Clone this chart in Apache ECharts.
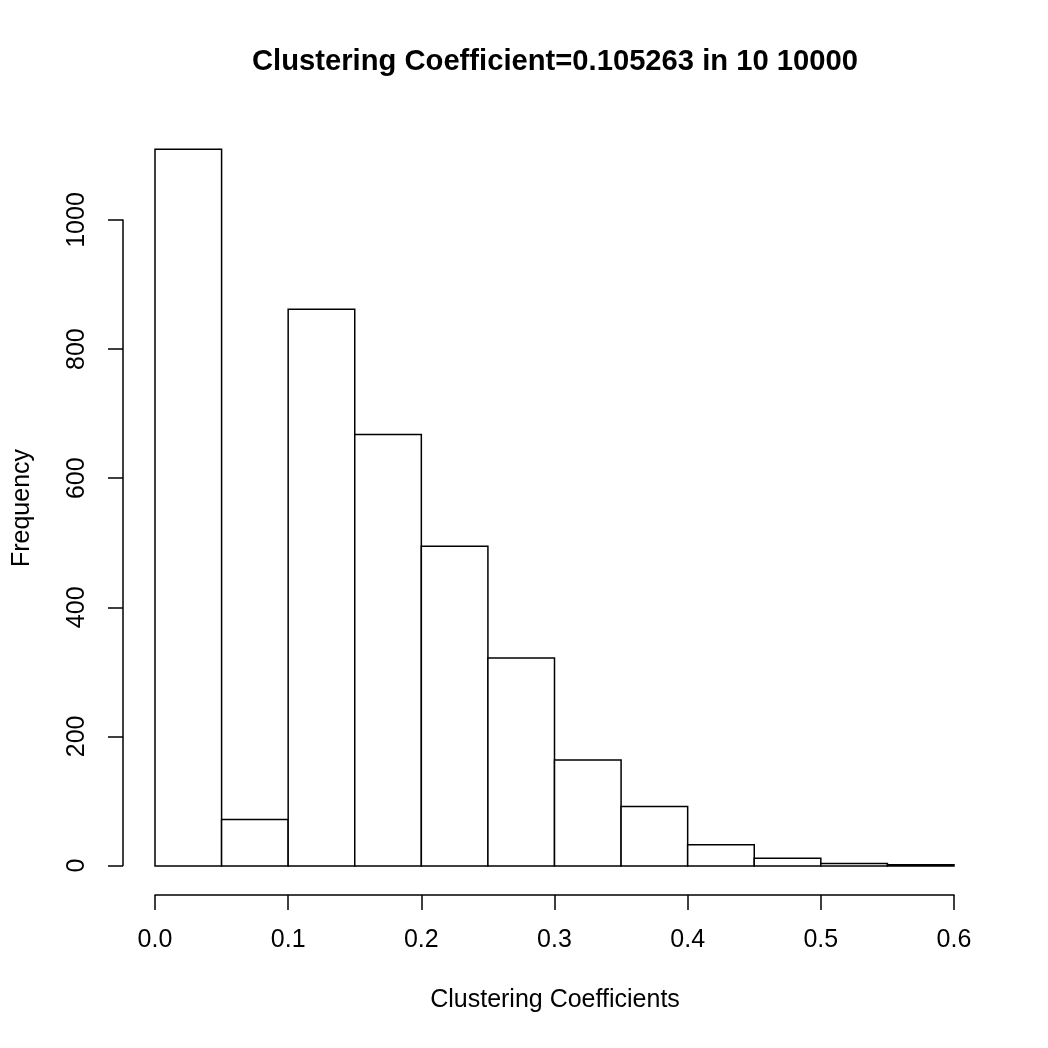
<!DOCTYPE html>
<html>
<head>
<meta charset="utf-8">
<title>Clustering Coefficient</title>
<script src="https://cdn.jsdelivr.net/npm/echarts@6/dist/echarts.min.js"></script>
<style>
  html, body { margin: 0; padding: 0; background: #fff; }
  #chartmain { width: 1048px; height: 1048px; }
</style>
</head>
<body>
<div id="chartmain"></div>
<script>
// histogram bins (break points) and counts
var binEdges = [0, 0.05, 0.1, 0.15, 0.2, 0.25, 0.3, 0.35, 0.4, 0.45, 0.5, 0.55, 0.6];
var counts = [1110, 72, 862, 668, 495, 322, 164, 92, 33, 12, 4, 2];
// axis ticks
var xTicks = [0, 0.1, 0.2, 0.3, 0.4, 0.5, 0.6];
var yTicks = [0, 200, 400, 600, 800, 1000];

var titleText = 'Clustering Coefficient=0.105263 in 10 10000';
var xName = 'Clustering Coefficients';
var yName = 'Frequency';

var font = '"Liberation Sans", Arial, Helvetica, sans-serif';

var histData = [];
for (var i = 0; i < counts.length; i++) {
    histData.push([binEdges[i], binEdges[i + 1], counts[i]]);
}

var chart = echarts.init(document.getElementById('chartmain'));

chart.setOption({
    backgroundColor: '#ffffff',
    animation: false,
    grid: [
        // bars
        { left: 155, width: 799, top: 91, height: 775 },
        // y axis (drawn only from 0 to 1000, offset to the left)
        { left: 123, width: 10, top: 220, height: 645.5 },
        // x axis (drawn below the plot)
        { left: 155, width: 799, top: 880, height: 15 }
    ],
    xAxis: [
        { gridIndex: 0, type: 'value', min: 0, max: 0.6, show: false },
        { gridIndex: 1, type: 'value', min: 0, max: 1, show: false },
        {
            gridIndex: 2, type: 'value', min: xTicks[0], max: xTicks[xTicks.length - 1],
            interval: 0.1, position: 'bottom',
            axisLine: { show: true, onZero: false, lineStyle: { color: '#000', width: 1.5 } },
            axisTick: { show: true, length: 15, lineStyle: { color: '#000', width: 1.5 } },
            axisLabel: {
                margin: 33, color: '#000', fontSize: 25, fontFamily: font,
                showMinLabel: true, showMaxLabel: true,
                formatter: function (v) { return v.toFixed(1); }
            },
            splitLine: { show: false }
        }
    ],
    yAxis: [
        { gridIndex: 0, type: 'value', min: 0, max: 1200, show: false },
        {
            gridIndex: 1, type: 'value', min: yTicks[0], max: yTicks[yTicks.length - 1],
            interval: 200, position: 'left',
            axisLine: { show: true, onZero: false, lineStyle: { color: '#000', width: 1.5 } },
            axisTick: { show: true, length: 15, lineStyle: { color: '#000', width: 1.5 } },
            axisLabel: {
                margin: 33, rotate: 90, color: '#000', fontSize: 25, fontFamily: font,
                showMinLabel: true, showMaxLabel: true,
                formatter: function (v) { return String(v); }
            },
            splitLine: { show: false }
        },
        { gridIndex: 2, type: 'value', min: 0, max: 1, show: false }
    ],
    graphic: [
        {
            type: 'text', x: 555, y: 62,
            style: {
                text: titleText, fill: '#000', textAlign: 'center', textVerticalAlign: 'middle',
                font: 'bold 29.2px ' + font
            }
        },
        {
            type: 'text', x: 555, y: 1000,
            style: {
                text: xName, fill: '#000', textAlign: 'center', textVerticalAlign: 'middle',
                font: '25px ' + font
            }
        },
        {
            type: 'text', x: 22, y: 508, rotation: Math.PI / 2,
            style: {
                text: yName, fill: '#000', textAlign: 'center', textVerticalAlign: 'middle',
                font: '25px ' + font
            }
        }
    ],
    series: [{
        type: 'custom',
        xAxisIndex: 0,
        yAxisIndex: 0,
        data: histData,
        renderItem: function (params, api) {
            var p0 = api.coord([api.value(0), api.value(2)]);
            var p1 = api.coord([api.value(1), 0]);
            return {
                type: 'rect',
                shape: { x: p0[0], y: p0[1], width: p1[0] - p0[0], height: p1[1] - p0[1] },
                style: { fill: '#ffffff', stroke: '#000000', lineWidth: 1.5 }
            };
        }
    }]
});
</script>
</body>
</html>
